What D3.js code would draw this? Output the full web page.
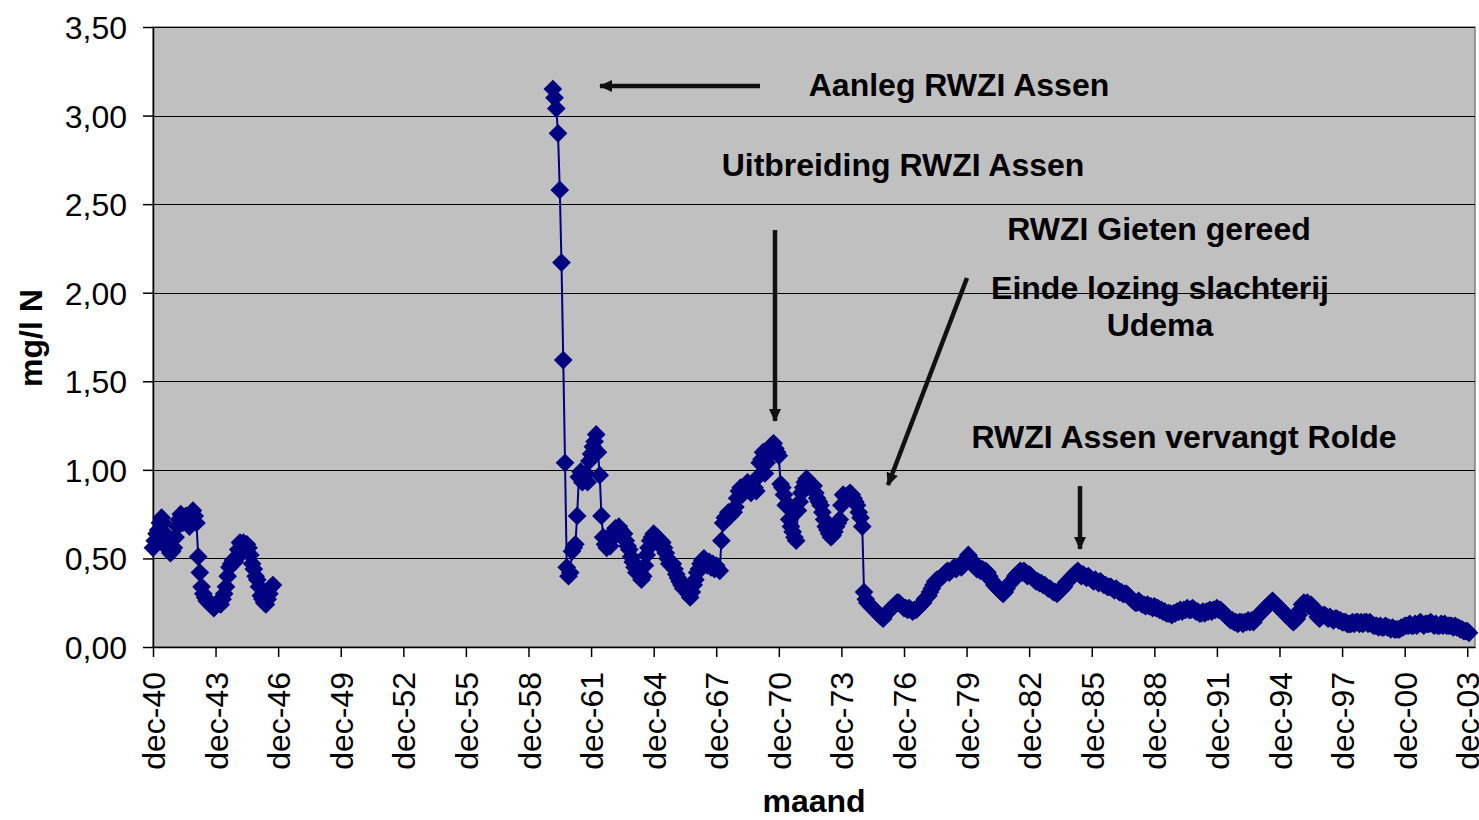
<!DOCTYPE html>
<html>
<head>
<meta charset="utf-8">
<script src="https://cdnjs.cloudflare.com/ajax/libs/d3/7.8.5/d3.min.js"></script>
<style>
  body { margin: 0; background: #fff; }
  svg { display: block; font-family: Arial, "Liberation Sans", sans-serif; }
</style>
</head>
<body>
<div id="chart-area"></div>
<script>
// monthly values, first segment starts dec-1940
var seg1Start = [1940, 11];
var seg1Values = [
  0.56, 0.60, 0.64, 0.66, 0.70, 0.73, 0.70,
  0.64, 0.58, 0.55, 0.53, 0.54, 0.56,
  0.62, 0.68, 0.72, 0.75, 0.70, 0.72,
  0.74, 0.72, 0.68, 0.74, 0.77, 0.74, 0.70,
  0.51, 0.42, 0.34, 0.30, 0.28,
  0.26, 0.25, 0.24, 0.23, 0.22, 0.23,
  0.25, 0.26, 0.24, 0.27, 0.30, 0.34,
  0.40, 0.45, 0.47, 0.49, 0.48, 0.50,
  0.55, 0.59, 0.58, 0.59, 0.56, 0.58,
  0.56, 0.52, 0.47, 0.44, 0.40, 0.38,
  0.34, 0.29, 0.27, 0.25, 0.24, 0.27,
  0.30, 0.34, 0.35
];

// second segment starts feb-1960
var seg2Start = [1960, 1];
var seg2Values = [
  3.15, 3.10, 3.04, 2.90, 2.58, 2.17, 1.62, 1.04, 0.45, 0.40, 0.42, 0.54,
  0.56, 0.58, 0.74, 0.96, 0.99, 0.93, 0.95, 0.98, 0.93, 1.05, 1.09, 1.13,
  1.16, 1.20, 1.10, 0.97, 0.74, 0.62, 0.58, 0.56, 0.59, 0.57, 0.62, 0.65,
  0.67, 0.64, 0.68, 0.66, 0.62, 0.64, 0.60, 0.57, 0.55, 0.51, 0.48, 0.45,
  0.42, 0.44, 0.42, 0.38, 0.40, 0.46, 0.52, 0.56, 0.60, 0.62, 0.64, 0.60,
  0.62, 0.58, 0.60, 0.59, 0.56, 0.53, 0.50, 0.47, 0.46, 0.47, 0.44, 0.41,
  0.39, 0.37, 0.35, 0.33, 0.34, 0.32, 0.30, 0.28, 0.31, 0.35, 0.38, 0.42,
  0.44, 0.47, 0.49, 0.50, 0.48, 0.46, 0.48, 0.45, 0.47, 0.44, 0.46, 0.44,
  0.43, 0.60, 0.70, 0.73, 0.74, 0.76, 0.74, 0.77, 0.76, 0.79, 0.84, 0.88,
  0.90, 0.86, 0.89, 0.91, 0.93, 0.90, 0.87, 0.89, 0.90, 0.88, 0.96, 1.04,
  1.06, 1.10, 0.98, 1.04, 1.08, 1.12, 1.14, 1.15, 1.12, 1.10, 1.08, 0.92,
  0.90, 0.86, 0.80, 0.81, 0.72, 0.68, 0.65, 0.62, 0.60, 0.77, 0.82, 0.87,
  0.90, 0.93, 0.95, 0.93, 0.92, 0.90, 0.91, 0.87, 0.84, 0.82, 0.80, 0.76,
  0.72, 0.68, 0.66, 0.64, 0.62, 0.63, 0.65, 0.68, 0.70, 0.72, 0.80, 0.86,
  0.85, 0.84, 0.86, 0.87, 0.86, 0.84, 0.82, 0.80, 0.76, 0.73, 0.68, 0.31,
  0.27, 0.25, 0.24, 0.23, 0.22, 0.21, 0.20, 0.19, 0.18, 0.17, 0.16, 0.18,
  0.19, 0.20, 0.21, 0.22, 0.23, 0.24, 0.25, 0.25, 0.24, 0.23, 0.22, 0.22,
  0.21, 0.22, 0.21, 0.20, 0.21, 0.21, 0.22, 0.23, 0.24, 0.25, 0.27, 0.28,
  0.29, 0.31, 0.33, 0.35, 0.37, 0.38, 0.38, 0.39, 0.40, 0.41, 0.42, 0.43,
  0.42, 0.43, 0.44, 0.45, 0.44, 0.45, 0.46, 0.45, 0.46, 0.48, 0.50, 0.52,
  0.50, 0.47, 0.46, 0.45, 0.44, 0.45, 0.43, 0.44, 0.42, 0.43, 0.42, 0.40,
  0.38, 0.37, 0.35, 0.34, 0.33, 0.32, 0.31, 0.30, 0.31, 0.33, 0.35, 0.36,
  0.37, 0.38, 0.40, 0.41, 0.42, 0.43, 0.42, 0.43, 0.42, 0.40, 0.41, 0.40,
  0.39, 0.38, 0.37, 0.37, 0.36, 0.36, 0.35, 0.35, 0.34, 0.33, 0.33, 0.32,
  0.31, 0.31, 0.30, 0.31, 0.32, 0.33, 0.34, 0.36, 0.37, 0.38, 0.39, 0.40,
  0.41, 0.42, 0.43, 0.41, 0.40, 0.41, 0.40, 0.39, 0.40, 0.39, 0.38, 0.37,
  0.38, 0.37, 0.36, 0.37, 0.36, 0.35, 0.35, 0.34, 0.34, 0.34, 0.33, 0.32,
  0.33, 0.32, 0.31, 0.31, 0.30, 0.30, 0.30, 0.29, 0.28, 0.27, 0.26, 0.25,
  0.25, 0.26, 0.25, 0.24, 0.24, 0.23, 0.24, 0.23, 0.23, 0.22, 0.23, 0.22,
  0.22, 0.21, 0.21, 0.20, 0.20, 0.19, 0.19, 0.19, 0.18, 0.19, 0.19, 0.20,
  0.20, 0.21, 0.20, 0.21, 0.21, 0.22, 0.21, 0.21, 0.22, 0.21, 0.20, 0.20,
  0.19, 0.19, 0.20, 0.19, 0.20, 0.20, 0.21, 0.20, 0.21, 0.21, 0.22, 0.21,
  0.21, 0.20, 0.19, 0.18, 0.17, 0.16, 0.15, 0.15, 0.14, 0.14, 0.13, 0.14,
  0.14, 0.13, 0.14, 0.14, 0.15, 0.14, 0.15, 0.14, 0.16, 0.17, 0.18, 0.19,
  0.20, 0.21, 0.22, 0.23, 0.24, 0.25, 0.26, 0.25, 0.24, 0.23, 0.22, 0.21,
  0.20, 0.19, 0.18, 0.17, 0.16, 0.15, 0.14, 0.15, 0.16, 0.18, 0.21, 0.24,
  0.25, 0.24, 0.25, 0.23, 0.24, 0.23, 0.21, 0.20, 0.17, 0.16, 0.17, 0.18,
  0.18, 0.17, 0.16, 0.17, 0.16, 0.15, 0.16, 0.16, 0.15, 0.15, 0.14, 0.14,
  0.14, 0.13, 0.13, 0.13, 0.14, 0.13, 0.14, 0.14, 0.13, 0.14, 0.13, 0.14,
  0.14, 0.13, 0.14, 0.13, 0.12, 0.12, 0.12, 0.11, 0.12, 0.11, 0.11, 0.12,
  0.11, 0.11, 0.10, 0.11, 0.10, 0.10, 0.10, 0.10, 0.11, 0.11, 0.12, 0.12,
  0.12, 0.13, 0.12, 0.12, 0.13, 0.12, 0.13, 0.14, 0.13, 0.12, 0.13, 0.13,
  0.13, 0.14, 0.13, 0.12, 0.13, 0.12, 0.12, 0.13, 0.12, 0.13, 0.12, 0.12,
  0.12, 0.12, 0.11, 0.12, 0.11, 0.11, 0.10, 0.10, 0.09, 0.09, 0.09, 0.08
];

var yTickValues = [0, 0.5, 1, 1.5, 2, 2.5, 3, 3.5];
var xTickYears = [1940, 1943, 1946, 1949, 1952, 1955, 1958, 1961, 1964, 1967, 1970,
                  1973, 1976, 1979, 1982, 1985, 1988, 1991, 1994, 1997, 2000, 2003];

var annotations = [
  {text: "Aanleg RWZI Assen", x: 959, y: 84},
  {text: "Uitbreiding RWZI Assen", x: 903, y: 164},
  {text: "RWZI Gieten gereed", x: 1159, y: 228},
  {text: "Einde lozing slachterij", x: 1160, y: 287},
  {text: "Udema", x: 1160, y: 324},
  {text: "RWZI Assen vervangt Rolde", x: 1184, y: 436}
];
var arrows = [
  {x1: 760, y1: 86, x2: 600, y2: 86},
  {x1: 775, y1: 230, x2: 775, y2: 421},
  {x1: 967, y1: 278, x2: 888, y2: 485},
  {x1: 1080, y1: 486, x2: 1080, y2: 549}
];

function toPoints(start, values){
    return values.map(function(v, i){
        return {date: new Date(start[0], start[1] + i, 1), value: v};
    });
}

var segments = [toPoints(seg1Start, seg1Values), toPoints(seg2Start, seg2Values)];

var chartWidth = 1479, chartHeight = 820;
var plotLeft = 153, plotRight = 1475, plotTop = 27, plotBottom = 647;

var svg = d3.select("#chart-area").append("svg")
    .attr("width", chartWidth)
    .attr("height", chartHeight);

var x = d3.scaleTime()
    .domain([new Date(1940, 11, 1), new Date(2004, 3, 15)])
    .range([plotLeft, plotRight]);

var y = d3.scaleLinear()
    .domain([0, 3.5])
    .range([plotBottom, plotTop]);

// plot area
svg.append("rect")
    .attr("x", plotLeft).attr("y", plotTop)
    .attr("width", plotRight - plotLeft).attr("height", plotBottom - plotTop)
    .attr("fill", "#c0c0c0")
    .attr("stroke", "#808080")
    .attr("stroke-width", 1.5);

// gridlines
svg.selectAll(".grid")
    .data(yTickValues.filter(function(d){ return d > 0; }))
    .enter()
    .append("line")
        .attr("x1", plotLeft).attr("x2", plotRight)
        .attr("y1", function(d){ return Math.round(y(d)) + 0.5; })
        .attr("y2", function(d){ return Math.round(y(d)) + 0.5; })
        .attr("stroke", "#000")
        .attr("stroke-width", 1);

// axes
var yAxis = d3.axisLeft(y)
    .tickValues(yTickValues)
    .tickSize(10)
    .tickSizeOuter(0)
    .tickPadding(16)
    .tickFormat(function(d){ return d3.format(".2f")(d).replace(".", ","); });

var gy = svg.append("g")
    .attr("transform", "translate(" + plotLeft + ",0)")
    .call(yAxis);
gy.selectAll("text").attr("font-size", "32px").attr("fill", "#000").attr("dy", "0.36em");
gy.selectAll("line, path").attr("stroke", "#000").attr("stroke-width", 1.5);

var xAxis = d3.axisBottom(x)
    .tickValues(xTickYears.map(function(yr){ return new Date(yr, 11, 1); }))
    .tickSize(10)
    .tickSizeOuter(0)
    .tickFormat(function(d){ return "dec-" + String(d.getFullYear()).slice(2); });

var gx = svg.append("g")
    .attr("transform", "translate(0," + plotBottom + ")")
    .call(xAxis);
gx.selectAll("line, path").attr("stroke", "#000").attr("stroke-width", 1.5);
gx.selectAll("text")
    .attr("font-size", "32px")
    .attr("fill", "#000")
    .attr("transform", "rotate(-90)")
    .attr("text-anchor", "end")
    .attr("x", -25)
    .attr("y", 0)
    .attr("dy", "0.36em");

// series
var line = d3.line()
    .x(function(d){ return x(d.date); })
    .y(function(d){ return y(d.value); });

svg.selectAll(".series")
    .data(segments)
    .enter()
    .append("path")
        .attr("d", line)
        .attr("fill", "none")
        .attr("stroke", "#000080")
        .attr("stroke-width", 2);

var diamond = d3.symbol().type(d3.symbolSquare).size(175);

svg.selectAll(".marker")
    .data(d3.merge(segments))
    .enter()
    .append("path")
        .attr("d", diamond)
        .attr("transform", function(d){
            return "translate(" + x(d.date) + "," + y(d.value) + ") rotate(45)";
        })
        .attr("fill", "#000080");

// annotations
svg.append("defs").append("marker")
    .attr("id", "head")
    .attr("markerUnits", "userSpaceOnUse")
    .attr("viewBox", "0 -7 14 14")
    .attr("refX", 12).attr("refY", 0)
    .attr("markerWidth", 14).attr("markerHeight", 14)
    .attr("orient", "auto")
  .append("path")
    .attr("d", "M0,-6L13,0L0,6Z")
    .attr("fill", "#111");

svg.selectAll(".arrow")
    .data(arrows)
    .enter()
    .append("line")
        .attr("x1", function(d){ return d.x1; })
        .attr("y1", function(d){ return d.y1; })
        .attr("x2", function(d){ return d.x2; })
        .attr("y2", function(d){ return d.y2; })
        .attr("stroke", "#111")
        .attr("stroke-width", 4.5)
        .attr("marker-end", "url(#head)");

svg.selectAll(".note")
    .data(annotations)
    .enter()
    .append("text")
        .attr("x", function(d){ return d.x; })
        .attr("y", function(d){ return d.y; })
        .attr("dy", "0.36em")
        .attr("text-anchor", "middle")
        .attr("font-size", "32px")
        .attr("font-weight", "bold")
        .attr("fill", "#000")
        .text(function(d){ return d.text; });

// axis titles
svg.append("text")
    .attr("transform", "translate(30,338) rotate(-90)")
    .attr("dy", "0.36em")
    .attr("text-anchor", "middle")
    .attr("font-size", "32px")
    .attr("font-weight", "bold")
    .text("mg/l N");

svg.append("text")
    .attr("x", 814).attr("y", 800)
    .attr("dy", "0.36em")
    .attr("text-anchor", "middle")
    .attr("font-size", "32px")
    .attr("font-weight", "bold")
    .text("maand");
</script>
</body>
</html>
